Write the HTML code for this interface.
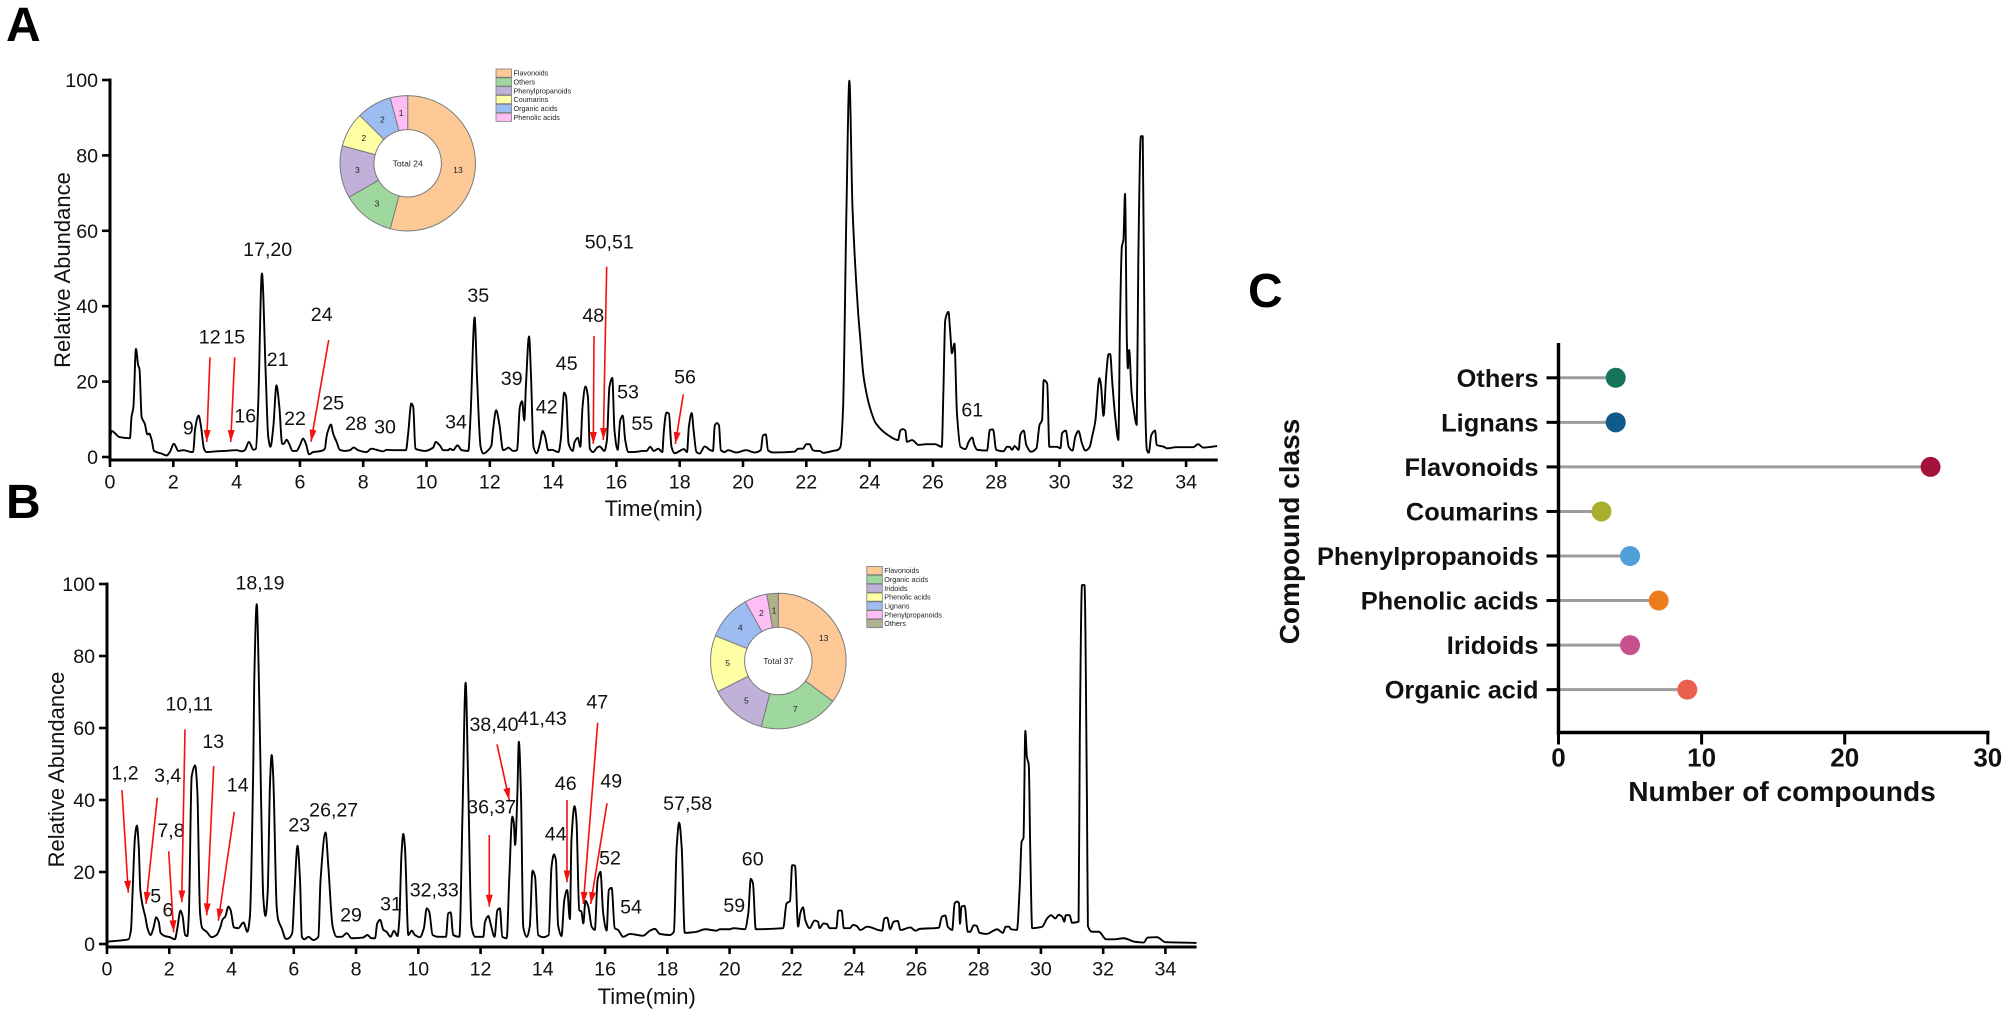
<!DOCTYPE html>
<html lang="en">
<head>
<meta charset="utf-8">
<title>Chromatograms and compound classes</title>
<style>
  html, body { margin: 0; padding: 0; background: #fff; }
  svg { display: block; font-family: "Liberation Sans", Arial, sans-serif; fill: #000; }
  .peak { font-size: 19.6px; text-anchor: middle; dominant-baseline: central; fill: #111; }
  .tick { font-size: 19.6px; fill: #111; }
  .title { font-size: 22px; fill: #111; }
  .panel { font-size: 48px; font-weight: 700; }
  .arrow { stroke: #f21010; stroke-width: 1.6; fill: none; marker-end: url(#arrowhead); }
</style>
</head>
<body>
<svg id="figure" xmlns="http://www.w3.org/2000/svg" width="2008" height="1015" viewBox="0 0 2008 1015">
  <defs>
    <marker id="arrowhead" markerUnits="userSpaceOnUse" markerWidth="12" markerHeight="7" refX="12" refY="3.5" orient="auto" viewBox="0 0 12 7">
      <path d="M0 0 L12 3.5 L0 7 Z" fill="#f21010"/>
    </marker>
  </defs>

  <text class="panel" x="6" y="41">A</text>
  <text class="panel" x="6" y="518">B</text>
  <text class="panel" x="1248" y="307">C</text>

  <g id="chart-a"></g>
  <g id="chart-b"></g>
  <g id="donut-a"></g>
  <g id="donut-b"></g>
  <g id="chart-c"></g>

  <g>
    <text class="peak" x="267.7" y="250">17,20</text>
    <text class="peak" x="209.7" y="337.7">12</text>
    <text class="peak" x="234.3" y="337.7">15</text>
    <text class="peak" x="277.7" y="360">21</text>
    <text class="peak" x="321.7" y="315">24</text>
    <text class="peak" x="333.3" y="403.3">25</text>
    <text class="peak" x="478.3" y="296">35</text>
    <text class="peak" x="188.3" y="428.3">9</text>
    <text class="peak" x="245.3" y="416.7">16</text>
    <text class="peak" x="295" y="419">22</text>
    <text class="peak" x="356" y="424">28</text>
    <text class="peak" x="385" y="427.3">30</text>
    <text class="peak" x="456" y="422.7">34</text>
    <text class="peak" x="511.7" y="379">39</text>
    <text class="peak" x="546.7" y="407.7">42</text>
    <text class="peak" x="566.7" y="364">45</text>
    <text class="peak" x="593.3" y="316">48</text>
    <text class="peak" x="609.3" y="242.3">50,51</text>
    <text class="peak" x="628" y="392.7">53</text>
    <text class="peak" x="642.3" y="424">55</text>
    <text class="peak" x="685" y="377.3">56</text>
    <text class="peak" x="972.3" y="410.7">61</text>
  </g>

  <g>
    <line class="arrow" x1="210" y1="357.3" x2="206.7" y2="442"/>
    <line class="arrow" x1="234.7" y1="357.3" x2="230.7" y2="442"/>
    <line class="arrow" x1="328.7" y1="340" x2="311" y2="441.7"/>
    <line class="arrow" x1="594" y1="336" x2="593.3" y2="444"/>
    <line class="arrow" x1="606.7" y1="266.7" x2="603.3" y2="440"/>
    <line class="arrow" x1="683.3" y1="394.3" x2="675.3" y2="444"/>
  </g>

  <g>
    <text class="peak" x="125" y="773.3">1,2</text>
    <text class="peak" x="167.7" y="776">3,4</text>
    <text class="peak" x="189.3" y="704.3">10,11</text>
    <text class="peak" x="213.3" y="742">13</text>
    <text class="peak" x="237.7" y="785.7">14</text>
    <text class="peak" x="171" y="831">7,8</text>
    <text class="peak" x="155.7" y="896.7">5</text>
    <text class="peak" x="168" y="910.7">6</text>
    <text class="peak" x="299.3" y="825.3">23</text>
    <text class="peak" x="333.7" y="810.7">26,27</text>
    <text class="peak" x="351" y="915.7">29</text>
    <text class="peak" x="391" y="904.3">31</text>
    <text class="peak" x="434.3" y="890.7">32,33</text>
    <text class="peak" x="260" y="583.3">18,19</text>
    <text class="peak" x="494" y="725">38,40</text>
    <text class="peak" x="542.3" y="719">41,43</text>
    <text class="peak" x="597.3" y="702.3">47</text>
    <text class="peak" x="491.7" y="807.3">36,37</text>
    <text class="peak" x="565.7" y="784">46</text>
    <text class="peak" x="611.3" y="781.7">49</text>
    <text class="peak" x="555.7" y="834.3">44</text>
    <text class="peak" x="610" y="858.3">52</text>
    <text class="peak" x="631" y="907.7">54</text>
    <text class="peak" x="687.7" y="804">57,58</text>
    <text class="peak" x="734.3" y="906">59</text>
    <text class="peak" x="752.7" y="859.3">60</text>
  </g>

  <g>
    <line class="arrow" x1="122" y1="790" x2="128.3" y2="892.7"/>
    <line class="arrow" x1="157.3" y1="797.7" x2="146" y2="904"/>
    <line class="arrow" x1="168.7" y1="851.3" x2="173.7" y2="932.3"/>
    <line class="arrow" x1="185" y1="729.3" x2="181.7" y2="902.3"/>
    <line class="arrow" x1="213.7" y1="766" x2="206.7" y2="915.3"/>
    <line class="arrow" x1="234.3" y1="811.7" x2="218.3" y2="920.7"/>
    <line class="arrow" x1="489.3" y1="835" x2="489.3" y2="906.7"/>
    <line class="arrow" x1="497" y1="744.3" x2="509.3" y2="800"/>
    <line class="arrow" x1="567" y1="800" x2="567" y2="882.3"/>
    <line class="arrow" x1="597.7" y1="722.7" x2="583.3" y2="904"/>
    <line class="arrow" x1="607" y1="803.3" x2="590.7" y2="904"/>
  </g>
</svg>

<script>
// ---------- chromatogram A ----------
var timeA = [0,0.05,0.3,0.63,0.68,0.74,0.82,0.89,0.93,1,1.1,1.18,1.24,1.32,1.39,1.63,1.79,1.89,2.02,2.16,2.32,2.58,2.63,2.69,2.8,2.87,2.97,3.05,3.37,3.6,4,4.16,4.26,4.39,4.53,4.61,4.68,4.8,4.92,5,5.07,5.16,5.26,5.35,5.44,5.49,5.58,5.66,5.77,5.89,6,6.1,6.19,6.29,6.42,6.68,6.79,6.84,6.89,6.98,7.05,7.16,7.26,7.42,7.58,7.7,7.84,8.1,8.26,8.42,8.63,8.74,9,9.35,9.42,9.52,9.58,9.65,9.79,9.95,10.21,10.29,10.42,10.53,10.68,10.74,10.84,10.98,11.11,11.32,11.39,11.52,11.6,11.71,11.79,11.95,12.05,12.1,12.2,12.3,12.42,12.53,12.58,12.74,12.86,12.95,13.02,13.09,13.14,13.24,13.3,13.38,13.48,13.58,13.67,13.74,13.85,13.96,14.17,14.24,14.35,14.41,14.49,14.62,14.68,14.78,14.86,14.93,15.02,15.1,15.16,15.26,15.39,15.47,15.62,15.7,15.78,15.87,15.94,16.04,16.12,16.2,16.28,16.38,16.54,16.84,16.95,17.07,17.18,17.32,17.45,17.5,17.58,17.66,17.74,17.84,18,18.13,18.23,18.29,18.38,18.44,18.53,18.63,18.79,18.95,19.05,19.11,19.18,19.24,19.3,19.42,19.53,19.79,20.1,20.37,20.56,20.63,20.72,20.79,20.95,21.63,21.74,21.89,22,22.1,22.21,22.32,22.42,22.53,22.84,23,23.08,23.16,23.27,23.36,23.46,23.64,23.7,23.8,23.86,24,24.2,24.6,24.9,24.97,25.05,25.13,25.18,25.34,25.55,25.8,26.07,26.28,26.33,26.39,26.49,26.55,26.6,26.68,26.76,26.87,27.03,27.13,27.24,27.31,27.4,27.71,27.8,27.9,28,28.23,28.34,28.42,28.5,28.58,28.71,28.76,28.87,28.95,29.1,29.27,29.37,29.45,29.5,29.61,29.68,29.92,30.03,30.08,30.2,30.29,30.41,30.5,30.6,30.71,30.82,30.95,31.03,31.13,31.26,31.31,31.39,31.48,31.55,31.6,31.67,31.76,31.86,31.91,31.97,32.02,32.07,32.13,32.16,32.2,32.28,32.34,32.44,32.49,32.57,32.63,32.7,32.76,32.82,32.9,33.02,33.07,33.3,33.39,33.7,34.22,34.38,34.54,34.98];
var abundanceA = [4.4,6.9,5.3,5,10.6,13.3,28.7,24.3,23.4,10.6,8.8,6,6.2,4.4,1.6,0.9,0.4,1.3,3.5,1.6,1.8,1.3,1.4,7.5,11,8.4,2.2,1.3,1.5,1.6,1.8,1.5,1.8,4,1.9,2.2,13.3,48.7,22,5.3,2.7,8,19,13.3,3.5,3.5,4.6,3.5,1.6,1.6,3.1,4.9,3.5,0.7,1.3,1.6,2.2,5.3,7,8.6,6.2,4,1.9,1.6,1.8,2.5,1.8,1.3,2.2,1.9,1.5,1.9,1.8,1.8,6.2,14.2,13.3,2.2,1.8,1.6,2.5,4,3.1,1.8,1.8,2.2,1.8,3.1,1.8,1.6,10.6,37,20.3,2.7,0.9,1.8,3,7,12.4,8.8,1.8,2.2,2.5,1.6,1.8,13.3,14.8,9.7,18.6,32,22,2.7,1,3.5,6.9,5.7,1.8,1.9,1.3,4.4,17.1,16,3.5,1.6,4,5.1,2.7,13.3,18.7,16,2.2,1.3,2.5,2.8,1.6,4.4,18.6,21,7,1.9,9.7,11,4.4,1.3,1.3,1.6,1.6,2.7,1.6,2.2,1.3,7,11.8,11.5,2.7,1,1.6,2.1,1.3,8,11.7,7,1.3,0.9,2.8,1.9,1.6,8.4,9,8.4,1.8,1.3,1.8,1.2,1.8,1.2,1.8,5.7,6,1.8,1.2,1.4,2.2,2.2,3.4,3.4,1.8,1.6,1.6,1.1,1.6,1.9,2.7,12.5,66.4,99.8,66,38,32,22,18.7,13.4,8.9,5.7,4.5,7,7.4,7,4,4.5,3.2,3.4,3.4,2.7,16.9,36.3,38.5,32.8,27.5,30.1,11.6,2.7,2.1,4,5.2,3.2,1.9,1.7,7.2,7.3,1.9,1.5,2.7,2.7,1.9,2.9,1.9,5.8,7,3.2,1.4,2.3,8.5,9.8,20.4,19.5,2.7,2.7,2.3,6.3,7,2.7,1.7,5.4,6.9,3.6,1.7,2.6,5.4,9.4,20.9,19.1,10.9,22.2,27.3,27.3,19.5,10.7,4.5,34.6,55.8,57.6,69.8,30.1,23.5,28.4,16.9,12.9,8.5,52.3,85.1,85.1,16.9,1.9,1.1,5.8,7,3.2,2.7,2.3,2.6,2.6,3.4,2.5,2.9];

// ---------- chromatogram B ----------
var timeB = [0,0.69,0.77,0.82,0.9,0.96,1.02,1.07,1.15,1.23,1.3,1.4,1.49,1.58,1.66,1.72,1.86,2.02,2.18,2.26,2.36,2.43,2.51,2.58,2.63,2.72,2.83,2.9,2.99,3.06,3.2,3.36,3.52,3.63,3.72,3.8,3.9,3.97,4.08,4.22,4.38,4.51,4.59,4.7,4.73,4.81,4.88,4.95,5.02,5.09,5.16,5.24,5.29,5.34,5.45,5.5,5.61,5.75,5.82,5.95,6.02,6.12,6.2,6.26,6.34,6.47,6.63,6.79,6.86,7.02,7.11,7.25,7.38,7.54,7.7,7.86,8.23,8.36,8.5,8.61,8.68,8.77,8.88,8.98,9.11,9.22,9.33,9.39,9.46,9.52,9.57,9.68,9.79,9.89,10.05,10.18,10.27,10.35,10.46,10.64,10.89,10.96,11.04,11.12,11.32,11.42,11.52,11.6,11.71,11.82,12.09,12.14,12.25,12.32,12.45,12.54,12.62,12.7,12.84,12.92,13.02,13.07,13.11,13.18,13.23,13.3,13.37,13.48,13.58,13.67,13.75,13.85,14.01,14.19,14.28,14.36,14.42,14.49,14.6,14.69,14.78,14.87,14.92,15.02,15.08,15.17,15.24,15.3,15.37,15.46,15.57,15.67,15.76,15.85,15.94,16.05,16.12,16.21,16.31,16.42,16.58,16.8,17.22,17.44,17.6,17.76,18.08,18.21,18.3,18.38,18.46,18.56,18.94,19.21,19.58,19.69,20,20.12,20.49,20.6,20.68,20.75,20.84,21.72,21.83,21.94,22.01,22.1,22.2,22.27,22.36,22.43,22.57,22.73,22.84,22.89,23.02,23.13,23.21,23.43,23.49,23.6,23.67,23.86,23.97,24.08,24.2,24.42,24.9,24.97,25.06,25.16,25.27,25.4,25.49,25.81,25.97,26.11,26.72,26.82,26.93,27.01,27.15,27.23,27.31,27.37,27.4,27.45,27.55,27.65,27.73,27.84,27.93,28.03,28.25,28.48,28.59,28.78,28.87,28.98,29.04,29.23,29.32,29.38,29.44,29.5,29.55,29.61,29.66,29.72,29.93,30.04,30.2,30.33,30.46,30.57,30.68,30.75,30.8,30.92,31,31.21,31.25,31.32,31.4,31.48,31.51,31.64,31.86,32.1,32.34,32.66,33.03,33.3,33.43,33.73,34,35];
var abundanceB = [0.65,1.3,3.9,14,29.8,32.9,27,15,10.4,7.6,4.4,2.5,4.4,7.4,6.2,3.1,2.2,1.9,1.3,4.4,9.3,7.6,2.5,2.2,8.5,46.5,49.6,42.8,8.5,4.4,3.4,1.9,2.5,4.4,6.9,7.6,10.4,9.4,4.6,4.4,6,3.4,7.6,50,73,94.4,73,40,13,7.8,14,45.6,52.5,46.5,10.4,6.7,4.4,1.4,1.5,3,14,27.3,17.8,2,1.3,2,1.1,2,17.8,31,21.5,4.8,2,2,3,1.6,1.8,2.5,1.6,1.6,5.7,6.7,3.9,3.4,2,3.7,2.2,6.7,25,30.6,27,2.5,3.7,2.5,1.9,4.4,9.9,9,2.5,2,2,8.5,8.8,2.5,2,36.3,72.6,45.6,4.8,2,2,6,7.8,5.7,2,9.4,9.9,2,1.6,17.8,35.4,33.5,27.5,40.9,56.2,40.9,4.8,2,4.8,20.4,18.7,2.5,1.9,2.5,21.5,24.9,23.3,5.3,2.2,12.2,15,6.9,28.9,38.3,34.4,9.4,9,5.7,12,10.4,4.8,3.9,17.8,20.1,8.5,3.7,15,15.6,4.4,3.9,2,2.8,2.3,3.7,4.2,2.8,2.5,3.4,27,33.7,27,3.1,3.4,4.1,3.7,4.1,4.1,4.4,4.1,8.5,18.1,16.9,4.1,4.4,11.3,11.9,21.9,21.8,4.8,8.5,10.2,6.7,4.4,6.5,6.2,4.4,5.7,5.5,4.4,4.4,9.3,9.3,4.4,4.4,5.3,5,3.9,4.8,3.7,7.1,7.3,4.1,6.2,6.4,3.9,4.6,3.7,4.2,4.5,7.6,7.9,4.8,3.9,11.3,11.8,11.3,5.6,10.4,10.6,3.4,3.4,5.2,5.1,3.1,2.8,3.7,4.1,3.1,4.8,4.8,4.1,3.9,15.9,28.4,29.4,59.2,52,49.7,25.2,4.4,4.6,4.8,7.1,8,7.1,8.1,7.6,6.2,8,8,5.9,6.2,57.6,99.7,99.7,39,5,3.4,3.4,1.3,1.3,1.6,0.6,0.4,1.8,1.9,0.5,0.3];

// ---------- shared tick labels ----------
var timeTicks = [0,2,4,6,8,10,12,14,16,18,20,22,24,26,28,30,32,34];
var abundanceTicks = [0,20,40,60,80,100];

// ---------- donuts ----------
var donutALabels = ["Flavonoids","Others","Phenylpropanoids","Coumarins","Organic acids","Phenolic acids"];
var donutAValues = [13,3,3,2,2,1];
var donutATotal = "Total 24";
var donutBLabels = ["Flavonoids","Organic acids","Iridoids","Phenolic acids","Lignans","Phenylpropanoids","Others"];
var donutBValues = [13,7,5,5,4,2,1];
var donutBTotal = "Total 37";
var donutColors = ["#fdc996","#9fd89e","#c0b1d8","#ffffa6","#9dbdf2","#ffbdf6","#b1b18b"];

// ---------- lollipop chart ----------
var classNames = ["Others","Lignans","Flavonoids","Coumarins","Phenylpropanoids","Phenolic acids","Iridoids","Organic acid"];
var classCounts = [4,4,26,3,5,7,5,9];
var classColors = ["#16745a","#115a8c","#a5123c","#aaae2c","#4f9fd8","#ee7c1e","#c9508f","#e9604f"];
var countTicks = [0,10,20,30];

var NS = "http://www.w3.org/2000/svg";
function make(parent, tag, attrs, text) {
  var el = document.createElementNS(NS, tag);
  for (var k in attrs) el.setAttribute(k, attrs[k]);
  if (text !== undefined) el.textContent = text;
  parent.appendChild(el);
  return el;
}

// monotone cubic path: rounds peaks without overshoot
function smoothPath(xs, ys) {
  var n = xs.length, d = [], m = [], i;
  for (i = 0; i < n - 1; i++) d[i] = (ys[i + 1] - ys[i]) / (xs[i + 1] - xs[i]);
  m[0] = d[0];
  m[n - 1] = d[n - 2];
  for (i = 1; i < n - 1; i++) {
    m[i] = d[i - 1] * d[i] <= 0 ? 0 : 2 * d[i - 1] * d[i] / (d[i - 1] + d[i]);
  }
  var s = "M" + xs[0].toFixed(2) + " " + ys[0].toFixed(2);
  for (i = 0; i < n - 1; i++) {
    var h = (xs[i + 1] - xs[i]) / 3;
    s += "C" + (xs[i] + h).toFixed(2) + " " + (ys[i] + m[i] * h).toFixed(2) + " " +
      (xs[i + 1] - h).toFixed(2) + " " + (ys[i + 1] - m[i + 1] * h).toFixed(2) + " " +
      xs[i + 1].toFixed(2) + " " + ys[i + 1].toFixed(2);
  }
  return s;
}

function drawChromatogram(root, times, values, o) {
  function sx(t) { return o.x0 + t * o.kx; }
  function sy(v) { return o.y0 - v * o.ky; }

  var yAxis = make(root, "line", {x1: o.x0, y1: sy(100) - 1.5, x2: o.x0, y2: o.axisY + 1.5, stroke: "#000", "stroke-width": 3});
  
  
  var xAxis = make(root, "line", {x1: o.x0 - 1.5, y1: o.axisY, x2: sx(35), y2: o.axisY, stroke: "#000", "stroke-width": 3});
  
  

  abundanceTicks.forEach(function (v) {
    var t = make(root, "line", {x1: o.x0 - 8, y1: sy(v), x2: o.x0, y2: sy(v), stroke: "#000", "stroke-width": 2.6});
    
    
    var l = make(root, "text", {"class": "tick", x: o.x0 - 12, y: sy(v) + 7, "text-anchor": "end"}, v);
    
    
  });
  timeTicks.forEach(function (v) {
    var t = make(root, "line", {x1: sx(v), y1: o.axisY, x2: sx(v), y2: o.axisY + 7, stroke: "#000", "stroke-width": 2.6});
    
    
    var l = make(root, "text", {"class": "tick", x: sx(v), y: o.axisY + 28.5, "text-anchor": "middle"}, v);
    
    
  });

  var xTitle = make(root, "text", {"class": "title", x: o.xTitleX, y: o.xTitleY, "text-anchor": "middle"}, "Time(min)");
  
  
  var yTitle = make(root, "text", {"class": "title", x: 0, y: 0, "text-anchor": "middle", transform: "translate(" + o.yTitleX + " " + o.yTitleY + ") rotate(-90)"}, "Relative Abundance");
  
  

  var line = make(root, "path", {
    d: smoothPath(times.map(sx), values.map(sy)),
    fill: "none", stroke: "#000", "stroke-width": 1.9, "stroke-linejoin": "round"
  });
  
  
}

function drawDonut(root, labels, values, total, o) {
  var sum = values.reduce(function (a, b) { return a + b; }, 0);
  var a = 0;
  function pt(r, ang) { return (o.cx + r * Math.sin(ang)).toFixed(2) + " " + (o.cy - r * Math.cos(ang)).toFixed(2); }
  values.forEach(function (v, i) {
    var b = a + v / sum * 2 * Math.PI;
    var large = b - a > Math.PI ? 1 : 0;
    var slice = make(root, "path", {
      d: "M" + pt(o.r1, a) + "A" + o.r1 + " " + o.r1 + " 0 " + large + " 1 " + pt(o.r1, b) +
         "L" + pt(o.r0, b) + "A" + o.r0 + " " + o.r0 + " 0 " + large + " 0 " + pt(o.r0, a) + "Z",
      fill: donutColors[i], stroke: "#7b7b7b", "stroke-width": 1
    });
    
    
    var mid = (a + b) / 2, r = (o.r0 + o.r1) / 2;
    var lab = make(root, "text", {
      x: o.cx + r * Math.sin(mid), y: o.cy - r * Math.cos(mid) + 3,
      "text-anchor": "middle", "font-size": 8.6, fill: "#222"
    }, v);
    
    
    a = b;

    var sw = make(root, "rect", {x: o.legX, y: o.legY + i * 8.83 - 4, width: 15.5, height: 8.2, fill: donutColors[i], stroke: "#7b7b7b", "stroke-width": 0.8});
    
    
    var t = make(root, "text", {x: o.legX + 17.5, y: o.legY + i * 8.83 + 2.6, "font-size": 7.2, fill: "#222"}, labels[i]);
    
    
  });
  var tot = make(root, "text", {x: o.cx, y: o.cy + 3, "text-anchor": "middle", "font-size": 8.6, fill: "#222"}, total);
  
  
}

function drawLollipop(root) {
  var x0 = 1558.5, kx = 14.31, axisY = 732.5, top = 343, y0 = 377.8, step = 44.55;
  function sx(v) { return x0 + v * kx; }
  function sy(i) { return y0 + i * step; }

  classNames.forEach(function (name, i) {
    var stem = make(root, "line", {x1: x0, y1: sy(i), x2: sx(classCounts[i]), y2: sy(i), stroke: "#9c9c9c", "stroke-width": 3});
    
    
    var dot = make(root, "circle", {cx: sx(classCounts[i]), cy: sy(i), r: 10, fill: classColors[i]});
    
    
    var t = make(root, "line", {x1: x0 - 12, y1: sy(i), x2: x0, y2: sy(i), stroke: "#000", "stroke-width": 3});
    
    
    var l = make(root, "text", {x: x0 - 20, y: sy(i) + 9, "text-anchor": "end", "font-size": 25.4, "font-weight": 700, fill: "#111"}, name);
    
    
  });

  var yAxis = make(root, "line", {x1: x0, y1: top, x2: x0, y2: axisY + 1.7, stroke: "#000", "stroke-width": 3.4});
  
  
  var xAxis = make(root, "line", {x1: x0 - 1.7, y1: axisY, x2: sx(30) + 1.7, y2: axisY, stroke: "#000", "stroke-width": 3.4});
  
  

  countTicks.forEach(function (v) {
    var t = make(root, "line", {x1: sx(v), y1: axisY, x2: sx(v), y2: axisY + 12, stroke: "#000", "stroke-width": 3});
    
    
    var l = make(root, "text", {x: sx(v), y: axisY + 34, "text-anchor": "middle", "font-size": 26, "font-weight": 700, fill: "#111"}, v);
    
    
  });

  var xTitle = make(root, "text", {x: 1782, y: 801, "text-anchor": "middle", "font-size": 28.1, "font-weight": 700, fill: "#111"}, "Number of compounds");
  
  
  var yTitle = make(root, "text", {x: 0, y: 0, "text-anchor": "middle", "font-size": 28, "font-weight": 700, fill: "#111", transform: "translate(1299 531.5) rotate(-90)"}, "Compound class");
  
  
}

drawChromatogram(document.getElementById("chart-a"), timeA, abundanceA, {
  x0: 110, kx: 31.65, y0: 457, ky: 3.77, axisY: 460,
  xTitleX: 653.7, xTitleY: 516, yTitleX: 70, yTitleY: 270
});
drawChromatogram(document.getElementById("chart-b"), timeB, abundanceB, {
  x0: 107, kx: 31.13, y0: 944, ky: 3.6, axisY: 947,
  xTitleX: 646.7, xTitleY: 1004, yTitleX: 64, yTitleY: 769.5
});
drawDonut(document.getElementById("donut-a"), donutALabels, donutAValues, donutATotal, {
  cx: 407.7, cy: 163.3, r0: 33.7, r1: 67.7, legX: 496, legY: 73
});
drawDonut(document.getElementById("donut-b"), donutBLabels, donutBValues, donutBTotal, {
  cx: 778.3, cy: 661, r0: 33.7, r1: 67.8, legX: 866.8, legY: 570.5
});
drawLollipop(document.getElementById("chart-c"));
</script>
</body>
</html>
